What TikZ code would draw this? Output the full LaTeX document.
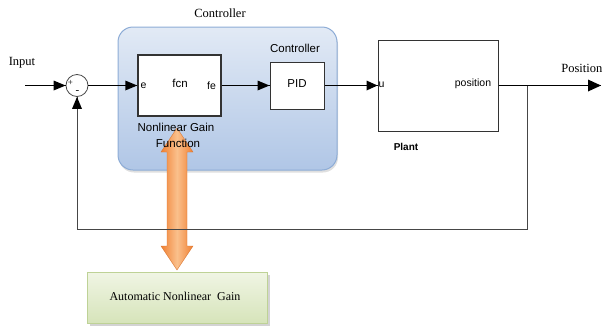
\documentclass[tikz,border=0pt]{standalone}
\usepackage{fontspec}
\setmainfont{Liberation Serif}
\setsansfont{Liberation Sans}
\usetikzlibrary{shadows}
\definecolor{ctrlborder}{RGB}{141,172,214}
\definecolor{ctrltop}{RGB}{226,234,245}
\definecolor{ctrlbot}{RGB}{176,198,230}
\definecolor{grborder}{RGB}{190,210,150}
\definecolor{grtop}{RGB}{240,245,228}
\definecolor{grbot}{RGB}{214,228,186}
\definecolor{ordark}{RGB}{240,128,50}
\definecolor{orlight}{RGB}{250,192,140}
\definecolor{fbgray}{RGB}{70,70,70}
\tikzset{
  wire/.style={line width=1.1pt},
  fbline/.style={draw=fbgray,line width=0.9pt},
  headfill/.style={fill=black},
  blk/.style={draw=black!80,line width=1pt,fill=white,inner sep=0pt},
  serlab/.style={font=\fontsize{12.5}{14}\selectfont},
  sanlab/.style={font=\sffamily\fontsize{11.5}{13}\selectfont,inner sep=0pt},
  smlab/.style={font=\sffamily\fontsize{10.5}{12}\selectfont,inner sep=0pt}
}
\begin{document}
\begin{tikzpicture}[x=1pt,y=-1pt]
\useasboundingbox (0,0) rectangle (603,327);
% controller region
\node[draw=ctrlborder,line width=1pt,rounded corners=15pt,top color=ctrltop,bottom color=ctrlbot,
  minimum width=219pt,minimum height=143pt,inner sep=0pt,
  drop shadow={opacity=0.25,shadow xshift=1pt,shadow yshift=-2.5pt}] (ctrl) at (227.5,98.5) {};
\node[serlab] (ctrllab) at (220,13) {Controller};
% blocks
\node[blk,line width=1.5pt,minimum width=83pt,minimum height=61pt] (fcn) at (179.5,85.5) {};
\node[blk,minimum width=54pt,minimum height=47pt] (pid) at (297,85.5) {};
\node[blk,minimum width=120pt,minimum height=91pt] (plant) at (438,85.5) {};
\node[draw=black!70,line width=0.8pt,circle,minimum size=22pt,inner sep=0pt] (sum) at (77,85.5) {};
% labels in blocks
\node[smlab] (le) at (143.5,86) {e};
\node[sanlab] (lfcn) at (180,83) {fcn};
\node[smlab] (lfe) at (211.5,86) {fe};
\node[sanlab] (lpid) at (297,84) {PID};
\node[sanlab] (lpidc) at (295,48.5) {Controller};
\node[smlab] (lu) at (381.5,85) {u};
\node[smlab] (lpos) at (473,84) {position};
\node[font=\sffamily\bfseries\fontsize{10}{12}\selectfont,inner sep=0pt] (lplant) at (406,147) {Plant};
\node[font=\fontsize{9}{9}\selectfont,inner sep=0pt] (plus) at (70.5,82.5) {+};
\node[font=\fontsize{11}{11}\selectfont,inner sep=0pt] (minus) at (77.5,92) {-};
% green box
\node[draw=grborder,line width=1pt,top color=grtop,bottom color=grbot,minimum width=180pt,minimum height=51pt,inner sep=0pt,
  drop shadow={opacity=0.35,shadow xshift=2.5pt,shadow yshift=-2.5pt}] (auto) at (177,297.5) {};
\node[font=\fontsize{12}{14}\selectfont] (autolab) at (175,296) {Automatic Nonlinear\ \ Gain};
% orange double arrow
\coordinate (aT) at (177,128);
\shade[left color=ordark,right color=ordark,middle color=orlight,draw=ordark!90!black,line width=0.3pt]
  (aT) -- ++(16,24) -- ++(-6,0) -- ++(0,94) -- ++(6,0) -- ++(-16,24) -- ++(-16,-24) -- ++(6,0) -- ++(0,-94) -- ++(-6,0) -- cycle;
\node[sanlab] (nlg1) at (176,127.5) {Nonlinear Gain};
\node[sanlab] (nlg2) at (178,143) {Function};
% external labels
\node[serlab] (inlab) at (22,63) {Input};
\node[serlab,anchor=east,inner sep=0.5pt] (poslab) at (603,68) {Position};
% connectors
\coordinate (in) at (25,85.5);
\coordinate (out) at (601,85.5);
\coordinate (br) at (527,85.5);
\coordinate (fb1) at (527,229);
\coordinate (fb2) at (77,229);
\draw[wire] (in) -- (sum.west);
\fill[headfill] (sum.west) -- ++(-12,-5) -- ++(0,10) -- cycle;
\draw[wire] (sum.east) -- (fcn.west);
\fill[headfill] (fcn.west) -- ++(-12,-5) -- ++(0,10) -- cycle;
\draw[wire] (fcn.east) -- (pid.west);
\fill[headfill] (pid.west) -- ++(-12,-5) -- ++(0,10) -- cycle;
\draw[wire] (pid.east) -- (plant.west);
\fill[headfill] (plant.west) -- ++(-11,-5) -- ++(0,10) -- cycle;
\draw[wire] (plant.east) -- (out);
\fill[headfill] (out) -- ++(-13,-6) -- ++(0,12) -- cycle;
\draw[fbline] (br) -- (fb1) -- (fb2) -- (sum.south);
\fill[headfill] (sum.south) -- ++(-5,12) -- ++(10,0) -- cycle;
\end{tikzpicture}
\end{document}
